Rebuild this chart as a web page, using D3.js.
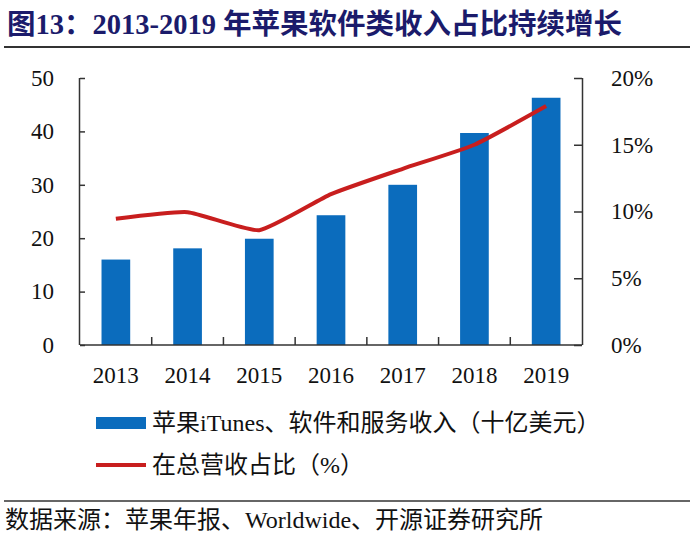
<!DOCTYPE html>
<html>
<head>
<meta charset="utf-8">
<script src="https://cdn.jsdelivr.net/npm/d3@7"></script>
<style>
  body { margin: 0; background: #fff; }
  svg text { font-family: "Liberation Serif", "Times New Roman", "Noto Sans CJK SC", serif; }
</style>
</head>
<body>
<div id="chart"></div>
<script>
// data
var years = ["2013", "2014", "2015", "2016", "2017", "2018", "2019"];
var revenue = [16.0, 18.1, 19.9, 24.3, 30.0, 39.7, 46.3];   // 十亿美元
var share = [9.45, 9.95, 8.6, 11.3, 13.2, 15.0, 17.9];      // %
var leftTicks = [0, 10, 20, 30, 40, 50];
var rightTicks = [0, 5, 10, 15, 20];

var svgWidth = 700;
var svgHeight = 539;

var plot = { left: 80, right: 582, top: 78, bottom: 345 };

var svg = d3.select("#chart")
  .append("svg")
  .attr("width", svgWidth)
  .attr("height", svgHeight);

// title and rule
svg.append("text")
  .attr("x", 7)
  .attr("y", 34)
  .attr("font-size", "28.5px")
  .attr("font-weight", "bold")
  .attr("fill", "#1b1b6b")
  .text("图13：2013-2019 年苹果软件类收入占比持续增长");

svg.append("line")
  .attr("x1", 4).attr("x2", 690)
  .attr("y1", 47).attr("y2", 47)
  .attr("stroke", "#333").attr("stroke-width", 2);

// scales
var x = d3.scaleBand()
  .domain(years)
  .range([plot.left, plot.right])
  .paddingInner(0.6)
  .paddingOuter(0.3);

var yLeft = d3.scaleLinear()
  .domain([0, 50])
  .range([plot.bottom, plot.top]);

var yRight = d3.scaleLinear()
  .domain([0, 20])
  .range([plot.bottom, plot.top]);

// bars
svg.selectAll(".bar")
  .data(revenue)
  .enter()
  .append("rect")
  .attr("class", "bar")
  .attr("x", (d, i) => x(years[i]))
  .attr("y", d => yLeft(d))
  .attr("width", x.bandwidth())
  .attr("height", d => yLeft(0) - yLeft(d))
  .attr("fill", "#0b6cbd");

// share line
var line = d3.line()
  .x((d, i) => x(years[i]) + x.bandwidth() / 2)
  .y(d => yRight(d))
  .curve(d3.curveCardinal.tension(0.5));

svg.append("path")
  .datum(share)
  .attr("d", line)
  .attr("fill", "none")
  .attr("stroke", "#c81e1e")
  .attr("stroke-width", 4);

// left axis
var leftAxis = d3.axisLeft(yLeft)
  .tickValues(leftTicks)
  .tickSize(-5)
  .tickPadding(26);

var gl = svg.append("g")
  .attr("transform", `translate(${plot.left},0)`)
  .call(leftAxis);

// right axis
var rightAxis = d3.axisRight(yRight)
  .tickValues(rightTicks)
  .tickSize(-8)
  .tickPadding(29)
  .tickFormat(d => d + "%");

var gr = svg.append("g")
  .attr("transform", `translate(${plot.right},0)`)
  .call(rightAxis);

// bottom axis: ticks sit between categories
var bottomAxis = d3.axisBottom(x).tickSize(0).tickPadding(28);

var gb = svg.append("g")
  .attr("transform", `translate(0,${plot.bottom})`)
  .call(bottomAxis);

gb.selectAll(".sep")
  .data(d3.range(1, years.length))
  .enter()
  .append("line")
  .attr("class", "sep")
  .attr("x1", i => plot.left + i * x.step())
  .attr("x2", i => plot.left + i * x.step())
  .attr("y1", 0)
  .attr("y2", -8);

[gl, gr, gb].forEach(function(g) {
  g.select(".domain").attr("stroke", "#333").attr("stroke-width", 1.5);
  g.selectAll("line").attr("stroke", "#333").attr("stroke-width", 1.5);
  g.selectAll("text")
    .attr("font-family", "Liberation Serif, Times New Roman, serif")
    .attr("font-size", "23px")
    .attr("fill", "#111");
});
gl.select(".domain").attr("d", `M-0.5,${plot.bottom}V${plot.top}`);
gr.select(".domain").attr("d", `M0.5,${plot.bottom}V${plot.top}`);
gb.select(".domain").attr("d", `M${plot.left},0H${plot.right}`);
gb.selectAll(".tick text").attr("dy", "0.45em");

// legend
var legend = svg.append("g").attr("font-size", "24px").attr("fill", "#111");

legend.append("rect")
  .attr("x", 96).attr("y", 417)
  .attr("width", 50).attr("height", 12)
  .attr("fill", "#0b6cbd");

legend.append("text")
  .attr("x", 152).attr("y", 423)
  .attr("dominant-baseline", "central")
  .text("苹果iTunes、软件和服务收入（十亿美元）");

legend.append("line")
  .attr("x1", 96).attr("x2", 146)
  .attr("y1", 465).attr("y2", 465)
  .attr("stroke", "#c81e1e").attr("stroke-width", 4);

legend.append("text")
  .attr("x", 152).attr("y", 465)
  .attr("dominant-baseline", "central")
  .text("在总营收占比（%）");

// source
svg.append("line")
  .attr("x1", 4).attr("x2", 690)
  .attr("y1", 501).attr("y2", 501)
  .attr("stroke", "#333").attr("stroke-width", 1.5);

svg.append("text")
  .attr("x", 5).attr("y", 520)
  .attr("dominant-baseline", "central")
  .attr("font-size", "24px")
  .attr("fill", "#111")
  .text("数据来源：苹果年报、Worldwide、开源证券研究所");
</script>
</body>
</html>
